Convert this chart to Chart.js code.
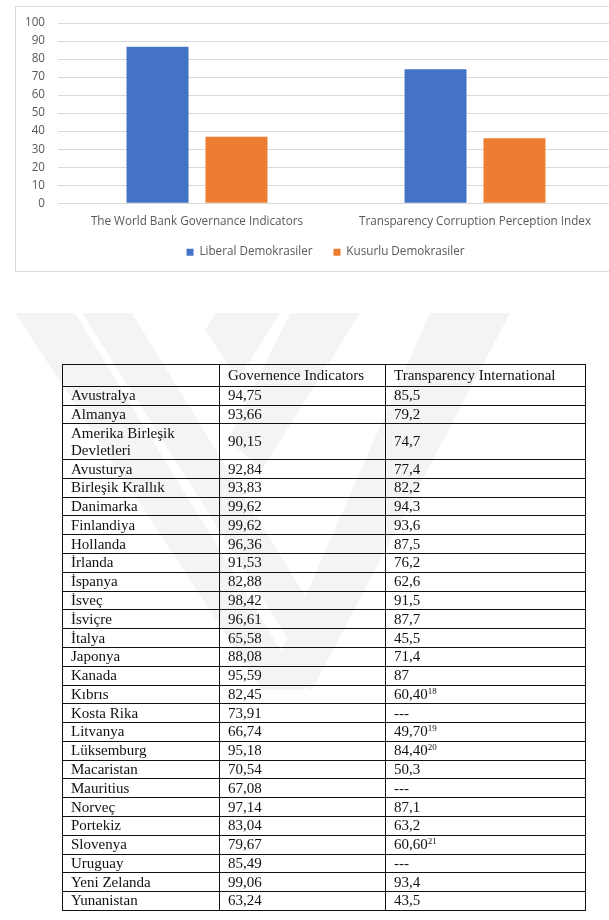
<!DOCTYPE html>
<html>
<head>
<meta charset="utf-8">
<script src="https://cdn.jsdelivr.net/npm/chart.js@4.4.1/dist/chart.umd.min.js"></script>
<style>
  html, body { margin: 0; padding: 0; background: #fff; overflow: hidden; width: 609px; height: 920px; }
  #chartFrame {
    position: absolute; left: 15px; top: 6px;
    width: 620px; height: 264px;
    border: 1px solid #d9d9d9;
  }
  #chartBox {
    position: absolute; left: 16px; top: 7px;
    width: 620px; height: 276px;
  }
  #watermark { position: absolute; left: 0; top: 0; z-index: 0; }
  #dataTable {
    position: absolute; left: 62px; top: 364px; z-index: 1;
    width: 523px; table-layout: fixed;
    border-collapse: collapse;
    font-family: "Liberation Serif", "Times New Roman", serif;
    font-size: 15px; color: #111;
    background: transparent;
  }
  #dataTable td {
    border: 1px solid #111;
    padding: 0.4px 8px;
    line-height: 17px;
    vertical-align: middle;
    white-space: normal;
  }
  #dataTable tr.head td { padding-top: 1.9px; padding-bottom: 1.9px; }
  #dataTable sup { font-size: 9px; line-height: 0; vertical-align: 5px; }
</style>
</head>
<body>
<div id="chartFrame"></div>
<div id="chartBox"><canvas id="chart"></canvas></div>

<svg id="watermark" width="609" height="920">
  <g fill="#f4f4f4">
    <polygon points="15,313 75,313 305,690 262,690"/>
    <polygon points="82,313 132,313 320,620 295,650"/>
    <polygon points="430,313 510,313 312,690 272,672"/>
    <polygon points="290,313 360,313 262,470 228,440"/>
    <polygon points="215,313 280,313 238,380 205,330"/>
  </g>
</svg>

<table id="dataTable">
  <colgroup><col style="width:157px"><col style="width:166px"><col style="width:200px"></colgroup>
  <tbody id="tableBody"></tbody>
</table>

<script>
// bar chart values
const categories = ['The World Bank Governance Indicators', 'Transparency Corruption Perception Index'];
const seriesNames = ['Liberal Demokrasiler', 'Kusurlu Demokrasiler'];
const liberalValues = [86.8, 74.4];
const kusurluValues = [36.9, 36.0];
const seriesColors = ['#4472c4', '#ed7d31'];

// table below the chart
const tableHeader = ['', 'Governence Indicators', 'Transparency International'];
const countries = ['Avustralya', 'Almanya', 'Amerika Birleşik Devletleri', 'Avusturya', 'Birleşik Krallık',
  'Danimarka', 'Finlandiya', 'Hollanda', 'İrlanda', 'İspanya', 'İsveç', 'İsviçre', 'İtalya', 'Japonya',
  'Kanada', 'Kıbrıs', 'Kosta Rika', 'Litvanya', 'Lüksemburg', 'Macaristan', 'Mauritius', 'Norveç',
  'Portekiz', 'Slovenya', 'Uruguay', 'Yeni Zelanda', 'Yunanistan'];
const governance = ['94,75', '93,66', '90,15', '92,84', '93,83', '99,62', '99,62', '96,36', '91,53', '82,88',
  '98,42', '96,61', '65,58', '88,08', '95,59', '82,45', '73,91', '66,74', '95,18', '70,54', '67,08',
  '97,14', '83,04', '79,67', '85,49', '99,06', '63,24'];
const transparency = ['85,5', '79,2', '74,7', '77,4', '82,2', '94,3', '93,6', '87,5', '76,2', '62,6',
  '91,5', '87,7', '45,5', '71,4', '87', '60,40', '---', '49,70', '84,40', '50,3', '---',
  '87,1', '63,2', '60,60', '---', '93,4', '43,5'];
const footnotes = ['', '', '', '', '', '', '', '', '', '', '', '', '', '', '', '18', '', '19', '20', '', '',
  '', '', '21', '', '', ''];

function buildTable() {
  const body = document.getElementById('tableBody');
  let html = '<tr class="head">' + tableHeader.map(h => `<td>${h}</td>`).join('') + '</tr>';
  countries.forEach((c, i) => {
    const note = footnotes[i] ? `<sup>${footnotes[i]}</sup>` : '';
    html += `<tr><td>${c}</td><td>${governance[i]}</td><td>${transparency[i]}${note}</td></tr>`;
  });
  body.innerHTML = html;
}
buildTable();

const textColor = '#595959';
const gridColor = '#d9d9d9';
Chart.defaults.font.family = '"Open Sans", sans-serif';
Chart.defaults.font.size = 11.7;
Chart.defaults.color = textColor;

// nudge the legend so it sits centred under the whole frame, like Excel does
const legendNudge = {
  id: 'legendNudge',
  afterLayout(chart) {
    chart.legend.left += 21;
    chart.legend.top -= 14;
  }
};

const ctx = document.getElementById('chart').getContext('2d');
new Chart(ctx, {
  type: 'bar',
  data: {
    labels: categories,
    datasets: [
      { label: seriesNames[0], data: liberalValues, backgroundColor: seriesColors[0] },
      { label: seriesNames[1], data: kusurluValues, backgroundColor: seriesColors[1] }
    ]
  },
  options: {
    responsive: true,
    maintainAspectRatio: false,
    animation: false,
    layout: { padding: { left: 0, right: 22, top: 16, bottom: 1 } },
    datasets: {
      bar: { barPercentage: 0.785, categoryPercentage: 0.568 }
    },
    plugins: {
      legend: {
        position: 'bottom',
        labels: { boxWidth: 7, boxHeight: 7, padding: 21, color: textColor }
      },
      tooltip: { enabled: false }
    },
    scales: {
      x: {
        grid: { display: false, drawTicks: false },
        border: { display: false },
        ticks: { padding: 11, color: textColor, maxRotation: 0, autoSkip: false }
      },
      y: {
        min: 0,
        max: 100,
        ticks: { stepSize: 10, padding: 13, color: textColor, autoSkip: false },
        grid: { color: gridColor, drawTicks: false, lineWidth: 1 },
        border: { display: false },
        afterFit: scale => {
          scale.width = 42;
          scale.paddingTop = 0;
          scale.paddingBottom = 0;
        }
      }
    }
  },
  plugins: [legendNudge]
});
</script>
</body>
</html>
